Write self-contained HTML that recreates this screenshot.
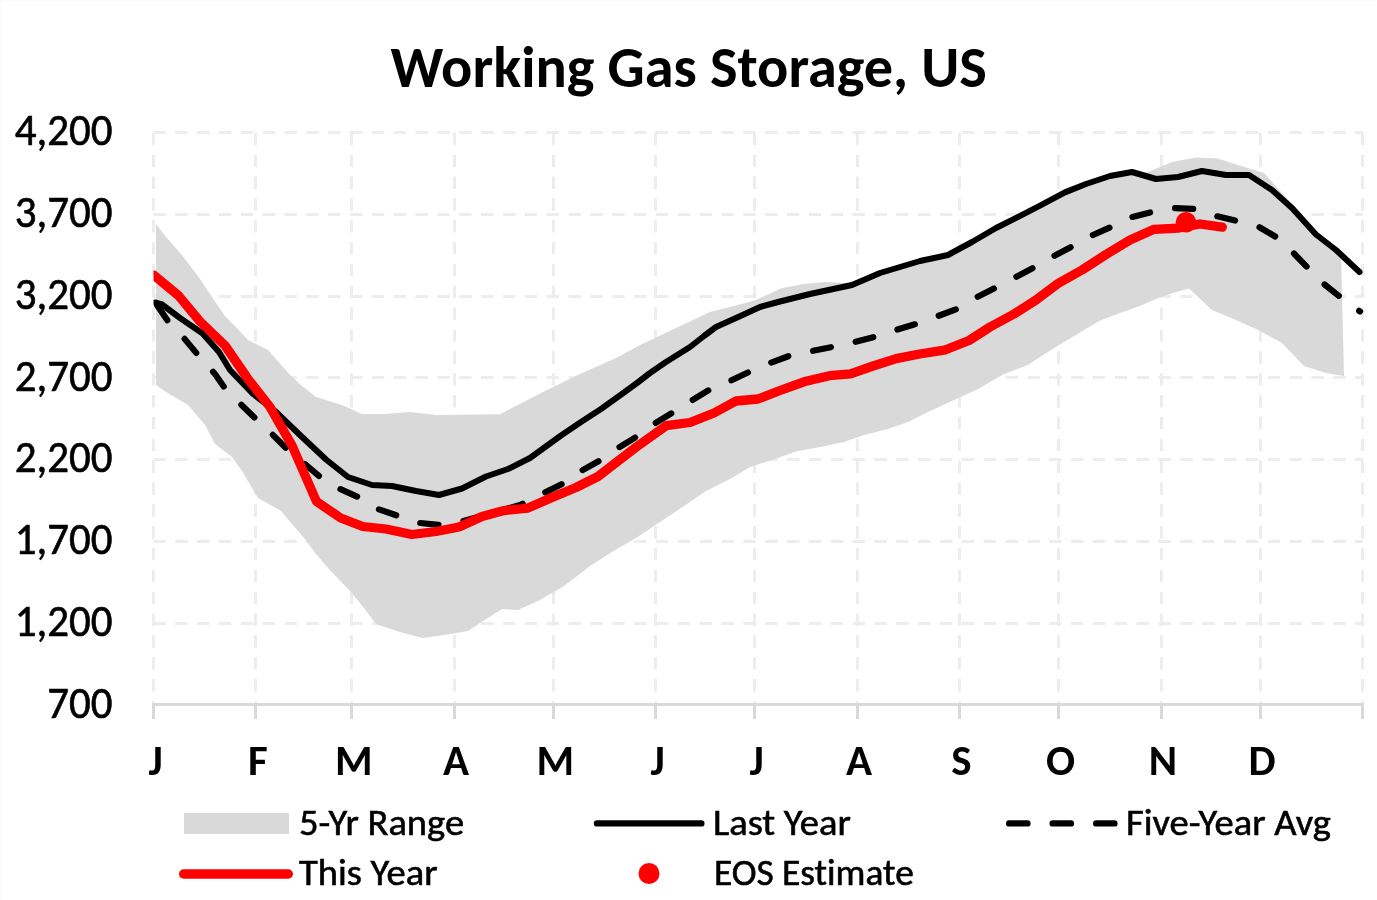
<!DOCTYPE html>
<html><head><meta charset="utf-8"><title>Working Gas Storage, US</title>
<style>html,body{margin:0;padding:0;background:#fff;}svg{display:block;will-change:transform;}text{font-variant-ligatures:none;font-feature-settings:'liga' 0,'clig' 0;}</style>
</head><body>
<svg width="1377" height="900" viewBox="0 0 1377 900"><rect x="0" y="0" width="1377" height="900" fill="#fff"/><path d="M0 0.5H1376M0.5 0V900" stroke="#fbfbfb" stroke-width="1" fill="none"/><g stroke="#ededed" stroke-width="3" stroke-dasharray="12.4 9.45" fill="none"><line x1="153.35" y1="132.50" x2="1363" y2="132.50"/><line x1="153.35" y1="214.50" x2="1363" y2="214.50"/><line x1="153.35" y1="296.50" x2="1363" y2="296.50"/><line x1="153.35" y1="377.50" x2="1363" y2="377.50"/><line x1="153.35" y1="459.50" x2="1363" y2="459.50"/><line x1="153.35" y1="541.50" x2="1363" y2="541.50"/><line x1="153.35" y1="623.50" x2="1363" y2="623.50"/></g><g stroke="#ededed" stroke-width="3" stroke-dasharray="12.4 9.45" fill="none"><line x1="153.50" y1="132.8" x2="153.50" y2="703"/><line x1="255.50" y1="132.8" x2="255.50" y2="703"/><line x1="351.50" y1="132.8" x2="351.50" y2="703"/><line x1="454.50" y1="132.8" x2="454.50" y2="703"/><line x1="553.50" y1="132.8" x2="553.50" y2="703"/><line x1="655.50" y1="132.8" x2="655.50" y2="703"/><line x1="754.50" y1="132.8" x2="754.50" y2="703"/><line x1="857.50" y1="132.8" x2="857.50" y2="703"/><line x1="959.50" y1="132.8" x2="959.50" y2="703"/><line x1="1058.50" y1="132.8" x2="1058.50" y2="703"/><line x1="1161.50" y1="132.8" x2="1161.50" y2="703"/><line x1="1260.50" y1="132.8" x2="1260.50" y2="703"/><line x1="1362.50" y1="132.8" x2="1362.50" y2="703"/></g><polygon points="156.0,224.0 166.0,237.0 182.0,255.0 200.0,279.0 212.0,297.0 225.0,316.0 234.0,325.0 248.0,340.0 268.0,350.0 276.0,359.0 290.0,375.0 302.0,386.0 316.0,397.0 342.0,405.0 362.0,414.0 386.0,414.0 410.0,412.0 436.0,415.0 500.0,414.2 547.0,390.0 580.0,374.0 616.0,358.0 640.0,345.0 676.0,328.0 710.0,312.0 734.0,306.0 756.0,300.0 782.0,288.0 804.0,284.0 826.0,282.0 846.0,283.0 852.0,285.0 880.0,273.0 920.0,261.0 948.0,255.0 972.0,242.0 996.0,228.0 1018.7,216.6 1040.0,205.6 1064.9,192.4 1086.0,184.0 1110.0,176.0 1132.0,172.0 1148.0,172.0 1172.0,162.0 1196.0,157.6 1218.0,158.4 1238.0,165.0 1264.0,173.0 1290.0,202.0 1316.0,233.0 1336.0,249.0 1341.0,255.0 1344.0,376.0 1326.0,373.0 1304.0,366.0 1282.0,343.0 1258.0,330.0 1236.0,320.0 1212.0,310.0 1189.0,288.6 1176.0,292.0 1158.0,298.0 1140.0,306.0 1120.0,313.0 1100.0,320.5 1055.0,347.5 1040.0,357.0 1028.0,365.0 1004.0,374.0 978.0,389.0 952.0,401.0 928.0,412.0 908.0,422.0 888.0,429.0 864.0,435.0 844.0,442.0 820.0,447.0 796.0,451.5 772.0,460.0 750.0,467.0 730.0,479.0 706.0,491.0 684.0,506.0 660.0,522.0 636.0,538.0 612.0,552.0 590.0,566.0 564.0,586.0 540.0,600.0 518.0,610.0 502.0,609.0 480.0,623.0 468.0,631.0 444.0,635.0 423.0,638.0 400.0,632.0 376.0,624.0 364.0,608.0 350.0,591.0 328.0,568.0 316.0,554.0 304.0,538.0 298.0,531.0 281.0,511.0 258.0,498.0 242.0,471.0 232.0,457.0 215.0,444.0 205.0,425.0 188.0,405.0 166.0,392.0 156.0,385.0" fill="#d9d9d9"/><line x1="152.0" y1="704.5" x2="1364.0" y2="704.5" stroke="#d9d9d9" stroke-width="3"/><g stroke="#d9d9d9" stroke-width="3"><line x1="153.50" y1="704" x2="153.50" y2="719"/><line x1="255.50" y1="704" x2="255.50" y2="719"/><line x1="351.50" y1="704" x2="351.50" y2="719"/><line x1="454.50" y1="704" x2="454.50" y2="719"/><line x1="553.50" y1="704" x2="553.50" y2="719"/><line x1="655.50" y1="704" x2="655.50" y2="719"/><line x1="754.50" y1="704" x2="754.50" y2="719"/><line x1="857.50" y1="704" x2="857.50" y2="719"/><line x1="959.50" y1="704" x2="959.50" y2="719"/><line x1="1058.50" y1="704" x2="1058.50" y2="719"/><line x1="1161.50" y1="704" x2="1161.50" y2="719"/><line x1="1260.50" y1="704" x2="1260.50" y2="719"/><line x1="1362.50" y1="704" x2="1362.50" y2="719"/></g><defs><clipPath id="pc"><rect x="153.5" y="120" width="1212.0" height="600"/></clipPath></defs><g clip-path="url(#pc)" fill="none" stroke-linejoin="round" stroke-linecap="round"><polyline points="155.0,302.0 167.4,320.4 183.8,337.9 196.5,353.2 215.0,374.0 224.0,387.0 241.0,404.5 255.0,418.0 272.0,434.0 286.0,448.0 305.5,464.5 319.0,476.0 340.0,489.0 358.0,497.0 378.0,509.0 397.0,515.5 420.0,523.0 440.0,525.0 462.0,521.5 520.0,505.0 544.0,493.0 562.0,484.0 581.0,471.0 599.0,461.0 618.0,448.0 636.0,437.0 654.0,424.0 672.0,413.0 691.0,401.0 709.0,390.0 730.0,381.0 749.0,372.0 770.0,363.0 789.0,356.0 812.0,351.0 832.0,347.0 855.0,342.0 874.0,337.0 896.0,330.0 916.0,324.0 938.0,316.0 957.0,309.0 977.0,297.0 995.0,288.0 1016.0,277.0 1033.0,268.0 1054.0,256.0 1071.0,247.0 1093.0,235.0 1111.0,227.0 1132.0,217.0 1152.0,212.0 1174.0,208.0 1195.0,209.0 1216.0,216.0 1237.0,221.0 1259.0,227.0 1276.0,237.0 1293.0,252.5 1307.0,267.0 1324.0,284.0 1339.0,296.0 1360.0,311.5" stroke="#000" stroke-width="6.2" stroke-dasharray="18.2 25.35" stroke-dashoffset="-3.87"/><polyline points="155.0,302.5 162.0,304.5 180.0,318.0 202.6,333.5 219.0,352.0 230.0,370.0 253.0,394.0 275.0,411.0 301.0,436.0 326.0,459.5 348.0,477.0 372.0,485.0 392.0,486.0 416.0,491.0 439.0,495.0 462.0,488.5 486.0,476.5 508.0,469.0 530.0,458.0 561.0,435.5 581.0,422.0 601.0,409.0 624.0,392.5 637.0,383.0 650.0,373.0 666.0,362.0 690.0,347.0 704.0,336.0 716.0,327.0 736.0,318.0 760.0,307.0 780.0,301.5 810.0,294.0 852.0,285.0 880.0,273.0 920.0,261.0 948.0,255.0 972.0,242.0 996.0,228.0 1018.7,216.6 1040.0,205.6 1064.9,192.4 1086.0,184.0 1110.0,176.0 1132.0,172.0 1156.0,179.0 1178.0,177.0 1202.0,171.0 1226.0,175.0 1249.0,175.0 1272.0,190.0 1292.0,208.0 1316.0,234.5 1336.0,250.0 1359.5,272.0" stroke="#000" stroke-width="6"/><polyline points="154.0,275.2 178.5,295.6 200.0,321.5 225.0,345.5 248.0,379.0 270.0,407.0 292.0,445.5 316.5,501.5 340.7,518.0 362.8,526.5 386.0,529.0 412.0,534.5 436.0,531.5 459.0,527.0 482.0,516.5 504.0,510.5 528.0,508.0 552.0,497.5 576.0,487.5 598.0,476.5 620.0,459.5 637.0,446.5 666.2,425.7 690.0,422.5 714.0,413.0 736.0,401.0 758.0,399.0 780.0,390.5 790.0,386.8 806.0,381.2 829.5,375.7 850.5,373.8 873.0,366.0 896.2,358.6 919.6,354.0 945.6,349.8 969.0,340.5 990.0,327.0 1014.0,314.0 1036.0,300.0 1058.0,283.5 1082.0,270.0 1106.0,254.5 1130.0,240.0 1154.0,229.3 1178.0,228.2 1200.0,224.0 1222.3,227.2" stroke="#f00" stroke-width="9.3"/></g><circle cx="1186" cy="222.2" r="10.3" fill="#f00"/><text x="688.7" y="87" text-anchor="middle" font-family="Carlito, 'Liberation Sans', sans-serif" font-weight="bold" font-size="58" textLength="596.30" lengthAdjust="spacingAndGlyphs">Working Gas Storage, US</text><text transform="translate(112.6,145.1) scale(0.965,1.03)" x="0" y="0" text-anchor="end" font-family="Carlito, 'Liberation Sans', sans-serif" font-size="44.5" stroke="#000" stroke-width="0.6" textLength="101.31" lengthAdjust="spacingAndGlyphs">4,200</text><text transform="translate(112.6,226.9) scale(0.965,1.03)" x="0" y="0" text-anchor="end" font-family="Carlito, 'Liberation Sans', sans-serif" font-size="44.5" stroke="#000" stroke-width="0.6" textLength="101.31" lengthAdjust="spacingAndGlyphs">3,700</text><text transform="translate(112.6,308.7) scale(0.965,1.03)" x="0" y="0" text-anchor="end" font-family="Carlito, 'Liberation Sans', sans-serif" font-size="44.5" stroke="#000" stroke-width="0.6" textLength="101.31" lengthAdjust="spacingAndGlyphs">3,200</text><text transform="translate(112.6,390.5) scale(0.965,1.03)" x="0" y="0" text-anchor="end" font-family="Carlito, 'Liberation Sans', sans-serif" font-size="44.5" stroke="#000" stroke-width="0.6" textLength="101.31" lengthAdjust="spacingAndGlyphs">2,700</text><text transform="translate(112.6,472.2) scale(0.965,1.03)" x="0" y="0" text-anchor="end" font-family="Carlito, 'Liberation Sans', sans-serif" font-size="44.5" stroke="#000" stroke-width="0.6" textLength="101.31" lengthAdjust="spacingAndGlyphs">2,200</text><text transform="translate(112.6,554.0) scale(0.965,1.03)" x="0" y="0" text-anchor="end" font-family="Carlito, 'Liberation Sans', sans-serif" font-size="44.5" stroke="#000" stroke-width="0.6" textLength="101.31" lengthAdjust="spacingAndGlyphs">1,700</text><text transform="translate(112.6,635.8) scale(0.965,1.03)" x="0" y="0" text-anchor="end" font-family="Carlito, 'Liberation Sans', sans-serif" font-size="44.5" stroke="#000" stroke-width="0.6" textLength="101.31" lengthAdjust="spacingAndGlyphs">1,200</text><text transform="translate(112.6,717.6) scale(0.965,1.03)" x="0" y="0" text-anchor="end" font-family="Carlito, 'Liberation Sans', sans-serif" font-size="44.5" stroke="#000" stroke-width="0.6" textLength="67.66" lengthAdjust="spacingAndGlyphs">700</text><text x="155.5" y="775" text-anchor="middle" font-family="Carlito, 'Liberation Sans', sans-serif" font-weight="bold" font-size="43" textLength="14.25" lengthAdjust="spacingAndGlyphs">J</text><text x="257.9" y="775" text-anchor="middle" font-family="Carlito, 'Liberation Sans', sans-serif" font-weight="bold" font-size="43" textLength="19.75" lengthAdjust="spacingAndGlyphs">F</text><text x="353.7" y="775" text-anchor="middle" font-family="Carlito, 'Liberation Sans', sans-serif" font-weight="bold" font-size="43" textLength="37.59" lengthAdjust="spacingAndGlyphs">M</text><text x="456.1" y="775" text-anchor="middle" font-family="Carlito, 'Liberation Sans', sans-serif" font-weight="bold" font-size="43" textLength="26.06" lengthAdjust="spacingAndGlyphs">A</text><text x="555.2" y="775" text-anchor="middle" font-family="Carlito, 'Liberation Sans', sans-serif" font-weight="bold" font-size="43" textLength="37.59" lengthAdjust="spacingAndGlyphs">M</text><text x="657.6" y="775" text-anchor="middle" font-family="Carlito, 'Liberation Sans', sans-serif" font-weight="bold" font-size="43" textLength="14.25" lengthAdjust="spacingAndGlyphs">J</text><text x="756.7" y="775" text-anchor="middle" font-family="Carlito, 'Liberation Sans', sans-serif" font-weight="bold" font-size="43" textLength="14.25" lengthAdjust="spacingAndGlyphs">J</text><text x="859.1" y="775" text-anchor="middle" font-family="Carlito, 'Liberation Sans', sans-serif" font-weight="bold" font-size="43" textLength="26.06" lengthAdjust="spacingAndGlyphs">A</text><text x="961.5" y="775" text-anchor="middle" font-family="Carlito, 'Liberation Sans', sans-serif" font-weight="bold" font-size="43" textLength="20.33" lengthAdjust="spacingAndGlyphs">S</text><text x="1060.6" y="775" text-anchor="middle" font-family="Carlito, 'Liberation Sans', sans-serif" font-weight="bold" font-size="43" textLength="29.09" lengthAdjust="spacingAndGlyphs">O</text><text x="1163.0" y="775" text-anchor="middle" font-family="Carlito, 'Liberation Sans', sans-serif" font-weight="bold" font-size="43" textLength="28.33" lengthAdjust="spacingAndGlyphs">N</text><text x="1262.1" y="775" text-anchor="middle" font-family="Carlito, 'Liberation Sans', sans-serif" font-weight="bold" font-size="43" textLength="27.11" lengthAdjust="spacingAndGlyphs">D</text><rect x="184" y="813" width="105" height="21" fill="#d9d9d9"/><line x1="183.7" y1="874" x2="288.3" y2="874" stroke="#f00" stroke-width="9.4" stroke-linecap="round"/><line x1="597" y1="823.4" x2="701.3" y2="823.4" stroke="#000" stroke-width="6.4" stroke-linecap="round"/><line x1="1009.2" y1="823.4" x2="1117" y2="823.4" stroke="#000" stroke-width="6.4" stroke-linecap="round" stroke-dasharray="18.2 25.3"/><circle cx="649" cy="873.5" r="10.5" fill="#f00"/><text transform="translate(299,835) scale(1,0.955)" x="0" y="0" font-family="Carlito, 'Liberation Sans', sans-serif" font-size="38.5" stroke="#000" stroke-width="0.6" textLength="165.06" lengthAdjust="spacingAndGlyphs">5-Yr Range</text><text transform="translate(299,884.6) scale(1,0.955)" x="0" y="0" font-family="Carlito, 'Liberation Sans', sans-serif" font-size="38.5" stroke="#000" stroke-width="0.6" textLength="138.61" lengthAdjust="spacingAndGlyphs">This Year</text><text transform="translate(713,835.2) scale(1,0.955)" x="0" y="0" font-family="Carlito, 'Liberation Sans', sans-serif" font-size="38.5" stroke="#000" stroke-width="0.6" textLength="137.88" lengthAdjust="spacingAndGlyphs">Last Year</text><text transform="translate(714,885.2) scale(1,0.975)" x="0" y="0" font-family="Carlito, 'Liberation Sans', sans-serif" font-size="37.7" stroke="#000" stroke-width="0.6" textLength="199.78" lengthAdjust="spacingAndGlyphs">EOS Estimate</text><text transform="translate(1126,835.3) scale(1,0.955)" x="0" y="0" font-family="Carlito, 'Liberation Sans', sans-serif" font-size="38.5" stroke="#000" stroke-width="0.6" textLength="204.86" lengthAdjust="spacingAndGlyphs">Five-Year Avg</text></svg>
</body></html>
